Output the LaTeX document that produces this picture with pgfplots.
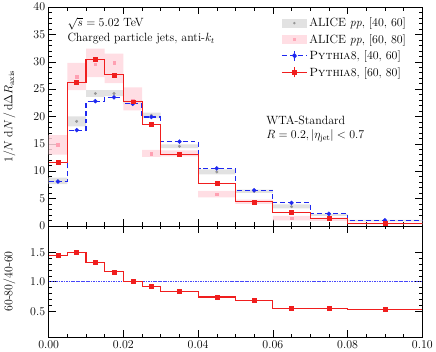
\documentclass[border=0pt]{standalone}
\usepackage{pgfplots}
\pgfplotsset{compat=1.18}
\definecolor{agray}{RGB}{226,226,226}
\definecolor{agraypt}{RGB}{150,150,150}
\definecolor{apink}{RGB}{255,216,223}
\definecolor{apinkpt}{RGB}{255,160,178}
\definecolor{pred}{RGB}{240,30,30}
\definecolor{pblue}{RGB}{30,40,240}
\definecolor{lblue}{RGB}{70,70,250}
\begin{document}
\begin{tikzpicture}[font=\fontsize{12}{14}\selectfont]
\pgfplotsset{
  every axis/.append style={
    font=\fontsize{12}{14}\selectfont,
    scale only axis, width=376pt, xmin=0, xmax=0.1,
    xtick={0,0.02,0.04,0.06,0.08,0.1},
    minor x tick num=3,
    major tick length=7pt, minor tick length=3.5pt,
    tick style={black, line width=0.5pt},
  },
}
\begin{axis}[
  name=top, height=220pt,
  ymin=0, ymax=40, ytick={0,5,...,40}, minor y tick num=4,
  xticklabels={},
  ylabel={$1/N\;\mathrm{d}N\,/\,\mathrm{d}\Delta R_{\mathrm{axis}}$},
  ylabel style={at={(axis description cs:-0.08,0.5)}, anchor=south},
  unbounded coords=jump,
  legend style={draw=none, fill=none, at={(rel axis cs:0.97,0.97)}, anchor=north east,
     row sep=2pt, cells={anchor=west}, font=\fontsize{12}{14}\selectfont},
]
% ALICE [40,60] boxes
\addplot[fill=agray, draw=none,
  legend image code/.code={\fill[agray] (0pt,-4.5pt) rectangle (25pt,4.5pt); \fill[agraypt] (12.5pt,0pt) circle (1.3pt);}]
coordinates {
(0,7.6)(0.005,7.6)(0.005,8.8)(0,8.8)(0,nan)
(0.005,18.2)(0.01,18.2)(0.01,20.0)(0.005,20.0)(0.005,nan)
(0.01,23.6)(0.015,23.6)(0.015,24.8)(0.01,24.8)(0.01,nan)
(0.015,23.7)(0.02,23.7)(0.02,24.8)(0.015,24.8)(0.015,nan)
(0.02,22.2)(0.025,22.2)(0.025,23.0)(0.02,23.0)(0.02,nan)
(0.025,19.7)(0.03,19.7)(0.03,20.7)(0.025,20.7)(0.025,nan)
(0.03,14.2)(0.04,14.2)(0.04,14.9)(0.03,14.9)(0.03,nan)
(0.04,9.4)(0.05,9.4)(0.05,10.3)(0.04,10.3)(0.04,nan)
(0.05,6.0)(0.06,6.0)(0.06,6.6)(0.05,6.6)(0.05,nan)
(0.06,3.2)(0.07,3.2)(0.07,3.9)(0.06,3.9)(0.06,nan)
(0.07,1.8)(0.08,1.8)(0.08,2.2)(0.07,2.2)(0.07,nan)
(0.08,0.8)(0.1,0.8)(0.1,1.1)(0.08,1.1)
};
\addlegendentry{ALICE \textit{pp}, [40, 60]}
% ALICE [60,80] boxes
\addplot[fill=apink, draw=none, fill opacity=0.85,
  legend image code/.code={\fill[apink] (0pt,-4.5pt) rectangle (25pt,4.5pt); \fill[apinkpt] (11.2pt,-1.3pt) rectangle (13.8pt,1.3pt);}]
coordinates {
(0,13.0)(0.005,13.0)(0.005,16.6)(0,16.6)(0,nan)
(0.005,24.8)(0.01,24.8)(0.01,29.8)(0.005,29.8)(0.005,nan)
(0.01,27.2)(0.015,27.2)(0.015,32.4)(0.01,32.4)(0.01,nan)
(0.015,26.1)(0.02,26.1)(0.02,31.5)(0.015,31.5)(0.015,nan)
(0.02,21.1)(0.025,21.1)(0.025,25.3)(0.02,25.3)(0.02,nan)
(0.025,12.6)(0.03,12.6)(0.03,13.9)(0.025,13.9)(0.025,nan)
(0.03,12.7)(0.04,12.7)(0.04,13.8)(0.03,13.8)(0.03,nan)
(0.04,5.2)(0.05,5.2)(0.05,6.4)(0.04,6.4)(0.04,nan)
(0.05,4.0)(0.06,4.0)(0.06,4.8)(0.05,4.8)(0.05,nan)
(0.06,1.0)(0.07,1.0)(0.07,1.8)(0.06,1.8)(0.06,nan)
(0.07,0.9)(0.08,0.9)(0.08,1.5)(0.07,1.5)(0.07,nan)
(0.08,0.25)(0.1,0.25)(0.1,0.55)(0.08,0.55)
};
\addlegendentry{ALICE \textit{pp}, [60, 80]}
% ALICE points
\addplot[only marks, mark=*, mark size=1.3pt, color=agraypt, forget plot]
coordinates {(0.0025,8.2)(0.0075,19.1)(0.0125,24.2)(0.0175,24.2)(0.0225,22.6)(0.0275,20.2)
(0.035,14.55)(0.045,9.85)(0.055,6.3)(0.065,3.5)(0.075,2.0)(0.09,0.95)};
\addplot[only marks, mark=square*, mark size=1.3pt, color=apinkpt, forget plot]
coordinates {(0.0025,14.8)(0.0075,27.3)(0.0125,29.6)(0.0175,29.8)(0.0225,23.0)(0.0275,13.2)
(0.035,13.3)(0.045,5.8)(0.055,4.4)(0.065,1.4)(0.075,1.2)(0.09,0.4)};
% PYTHIA [40,60]
\addplot[const plot mark left, color=pblue, line width=1.2pt, dash pattern=on 5pt off 3pt,
  legend image code/.code={\draw[pblue, line width=1.2pt, dash pattern=on 5pt off 3pt] (0pt,0pt) -- (25pt,0pt); \draw[pblue, line width=0.8pt] (12.5pt,-5pt) -- (12.5pt,5pt); \fill[pblue] (12.5pt,0pt) circle (2pt);}]
coordinates {(0,8.1)(0.005,17.5)(0.01,22.8)(0.015,23.5)(0.02,22.3)(0.025,19.9)(0.03,15.4)
(0.04,10.5)(0.05,6.5)(0.06,4.2)(0.07,2.2)(0.08,1.0)(0.1,1.0)};
\addlegendentry{\textsc{Pythia}8, [40, 60]}
\addplot[only marks, mark=*, mark size=2pt, color=pblue, forget plot]
coordinates {(0.0025,8.1)(0.0075,17.5)(0.0125,22.8)(0.0175,23.5)(0.0225,22.3)(0.0275,19.9)
(0.035,15.4)(0.045,10.5)(0.055,6.5)(0.065,4.2)(0.075,2.2)(0.09,1.0)};
% PYTHIA [60,80]
\addplot[const plot mark left, color=pred, line width=1.1pt,
  legend image code/.code={\draw[pred, line width=1.1pt] (0pt,0pt) -- (25pt,0pt); \draw[pred, line width=0.8pt] (12.5pt,-5pt) -- (12.5pt,5pt); \fill[pred] (10.5pt,-2pt) rectangle (14.5pt,2pt);}]
coordinates {(0,11.6)(0.005,26.2)(0.01,30.4)(0.015,27.6)(0.02,22.7)(0.025,18.5)(0.03,13.1)
(0.04,7.8)(0.05,4.4)(0.06,2.4)(0.07,1.3)(0.08,0.5)(0.1,0.5)};
\addlegendentry{\textsc{Pythia}8, [60, 80]}
\addplot[only marks, mark=square*, mark size=2pt, color=pred, forget plot]
coordinates {(0.0025,11.6)(0.0075,26.2)(0.0125,30.4)(0.0175,27.6)(0.0225,22.7)(0.0275,18.5)
(0.035,13.1)(0.045,7.8)(0.055,4.4)(0.065,2.4)(0.075,1.3)(0.09,0.5)};
\node[anchor=north west, align=left, inner sep=0pt] at (rel axis cs:0.05,0.955)
  {$\sqrt{s}=5.02$ TeV\\[1pt]Charged particle jets, anti-$k_t$};
\node[anchor=north west, align=left, inner sep=0pt] at (rel axis cs:0.582,0.505)
  {WTA-Standard\\[1pt]$R=0.2, |\eta_{\mathrm{jet}}|<0.7$};
\end{axis}
\begin{axis}[
  at={(top.south west)}, anchor=north west, height=112pt,
  ymin=0.06, ymax=1.95, ytick={0.5,1,1.5}, minor y tick num=4,
  yticklabel style={/pgf/number format/.cd, fixed, fixed zerofill, precision=1},
  xticklabel style={/pgf/number format/.cd, fixed, fixed zerofill, precision=2},
  scaled x ticks=false,
  ylabel={60-80/40-60},
  ylabel style={at={(axis description cs:-0.08,0.5)}, anchor=south},
]
\addplot[draw=lblue, mark=none, line width=1.1pt, dash pattern=on 1.6pt off 0.9pt] coordinates {(0,1)(0.1,1)};
\addplot[const plot mark left, color=pred, line width=1.1pt]
coordinates {(0,1.45)(0.005,1.50)(0.01,1.33)(0.015,1.17)(0.02,1.005)(0.025,0.92)(0.03,0.84)
(0.04,0.74)(0.05,0.68)(0.06,0.55)(0.07,0.55)(0.08,0.53)(0.1,0.53)};
\addplot[only marks, mark=square*, mark size=2pt, color=pred]
coordinates {(0.0025,1.45)(0.0075,1.50)(0.0125,1.33)(0.0175,1.17)(0.0225,1.005)(0.0275,0.92)
(0.035,0.84)(0.045,0.74)(0.055,0.68)(0.065,0.55)(0.075,0.55)(0.09,0.53)};
\end{axis}
\end{tikzpicture}
\end{document}
